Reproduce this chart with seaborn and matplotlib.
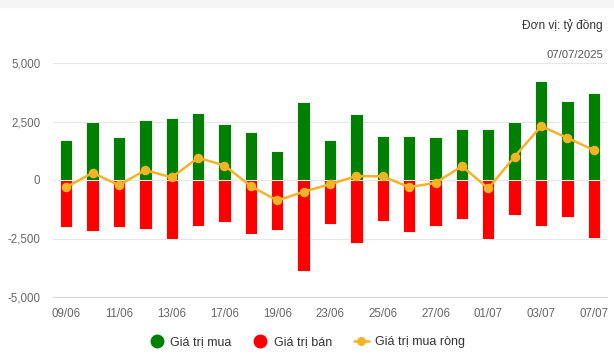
import pandas as pd
import matplotlib.pyplot as plt
import seaborn as sns
from matplotlib.lines import Line2D
from matplotlib.patches import Rectangle
from matplotlib.ticker import FuncFormatter

# Dữ liệu (tỷ đồng)
ngay = ["09/06", "10/06", "11/06", "12/06", "13/06", "16/06", "17/06", "18/06",
        "19/06", "20/06", "23/06", "24/06", "25/06", "26/06", "27/06", "30/06",
        "01/07", "02/07", "03/07", "04/07", "07/07"]
gia_tri_mua = [1690, 2500, 1830, 2555, 2640, 2880, 2410, 2040, 1260, 3350, 1690,
               2840, 1900, 1900, 1830, 2200, 2160, 2500, 4250, 3395, 3735]
gia_tri_ban = [-2015, -2185, -2015, -2113, -2540, -1972, -1800, -2314, -2143, -3894,
               -1887, -2698, -1759, -2229, -1972, -1673, -2527, -1503, -1972, -1588, -2485]
mua_rong = [-310, 307, -222, 420, 110, 948, 619, -265, -875, -505, -178,
            162, 162, -307, -120, 590, -363, 1003, 2297, 1802, 1272]

XANH = "#008000"
DO = "#ff0000"
CAM = "#f4b426"

df = pd.DataFrame({"ngay": ngay, "mua": gia_tri_mua, "ban": gia_tri_ban, "rong": mua_rong})

sns.set_style("white")
plt.rcParams["font.family"] = ["Liberation Sans", "DejaVu Sans"]

fig = plt.figure(figsize=(6.14, 3.6), dpi=100)
ax = fig.add_axes([0.0863, 0.175, 0.9023, 0.65])

# bandeau gris en haut
fig.patches.append(Rectangle((0, 0.98), 1, 0.02, transform=fig.transFigure,
                             color="#f5f5f5", zorder=0))

sns.barplot(data=df, x="ngay", y="mua", color=XANH, saturation=1, width=0.47,
            edgecolor="white", linewidth=0.6, ax=ax, zorder=2)
sns.barplot(data=df, x="ngay", y="ban", color=DO, saturation=1, width=0.47,
            edgecolor="white", linewidth=0.6, ax=ax, zorder=2)
sns.pointplot(data=df, x="ngay", y="rong", color=CAM, markers="o", markersize=5.5,
              linewidth=1.8, ax=ax, zorder=4)

ax.set_xlim(-0.5, len(ngay) - 0.5)
ax.set_ylim(-5000, 5000)
ax.set_yticks([-5000, -2500, 0, 2500, 5000])
ax.yaxis.set_major_formatter(FuncFormatter(lambda v, p: f"{v:,.0f}"))
ax.set_xticks(range(0, len(ngay), 2))
ax.set_xticklabels(ngay[::2])
ax.set_xlabel("")
ax.set_ylabel("")
ax.grid(axis="y", color="#e6e6e6", linewidth=0.8, zorder=0)
ax.set_axisbelow(True)
for s in ["top", "right", "left"]:
    ax.spines[s].set_visible(False)
ax.spines["bottom"].set_color("#d8d8d8")
ax.spines["bottom"].set_linewidth(0.8)
ax.tick_params(axis="both", length=0, labelsize=8.3, colors="#666666")
ax.tick_params(axis="x", pad=8)
ax.tick_params(axis="y", pad=9)

fig.text(0.982, 0.93, "Đơn vị: tỷ đồng", ha="right", va="center", fontsize=8.6, color="#333333")
fig.text(0.982, 0.847, "07/07/2025", ha="right", va="center", fontsize=8.1, color="#555555")

handles = [
    Line2D([], [], marker="o", linestyle="", markersize=9, color=XANH),
    Line2D([], [], marker="o", linestyle="", markersize=9, color=DO),
    Line2D([], [], marker="o", linestyle="-", markersize=5.5, linewidth=1.8, color=CAM),
]
fig.legend(handles, ["Giá trị mua", "Giá trị bán", "Giá trị mua ròng"],
           loc="center", bbox_to_anchor=(0.5, 0.05), ncol=3, frameon=False,
           fontsize=9, labelcolor="#333333", handlelength=1.2, handletextpad=0.5,
           columnspacing=1.7)

fig.savefig("out.png", dpi=100, facecolor="white")
